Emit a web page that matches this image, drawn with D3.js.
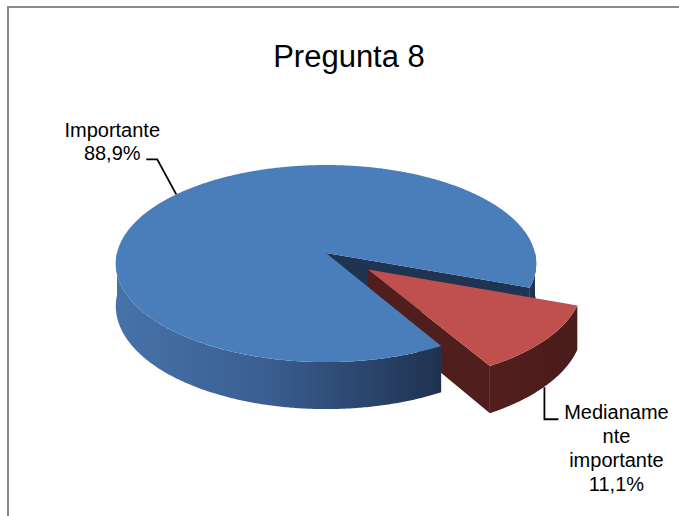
<!DOCTYPE html>
<html>
<head>
<meta charset="utf-8">
<script src="https://cdn.jsdelivr.net/npm/d3@7"></script>
<style>
  html, body { margin: 0; padding: 0; background: #ffffff; }
  svg { display: block; font-family: "Liberation Sans", Arial, sans-serif; }
</style>
</head>
<body>
<script>
// ---- data ----
const title = "Pregunta 8";
const categories = ["Importante", "Medianamente importante"];
const values = [88.9, 11.1];
// how Excel wrapped each label's category name
const labelNameLines = [["Importante"], ["Medianame", "nte", "importante"]];
const explodeFractions = [0, 0.258];

// ---- styles ----
const topColors = ["#4a7ebb", "#c0504d"];
const cutColors = ["#1e3452", "#4f1e1d"];
const wallColors = [["#4672a9", "#3b5f92", "#1f3250"], ["#521f1e", "#4e1d1c", "#4a1c1b"]];

const W = 679, H = 516;
const svg = d3.select("body").append("svg").attr("width", W).attr("height", H);

// chart-area border (extends beyond the viewport on the right and bottom)
svg.append("rect").attr("x", 8).attr("y", 7).attr("width", 720).attr("height", 560)
  .attr("fill", "#fff").attr("stroke", "#8a8a8a").attr("stroke-width", 2);

// title
svg.append("text").attr("x", 349).attr("y", 67).attr("text-anchor", "middle")
  .attr("font-size", 31).attr("fill", "#000").text(title);

// ---- 3D pie geometry (perspective projection of a tilted disc) ----
const geo = { cx: 326, cy: 253, rx: 209, ry: 97.4, k: 0.107, depth: 42 };
function proj(theta, r, off, h) {
  const u = r * Math.sin(theta) + off[0];
  const v = -r * Math.cos(theta) + off[1];
  const s = 1 / (1 - geo.k * v);
  return [geo.cx + geo.rx * u * s, geo.cy + (geo.ry * v + geo.depth * h) * s];
}
function arcPts(a0, a1, off, h) {
  const n = Math.max(2, Math.ceil(Math.abs(a1 - a0) / (Math.PI / 360)));
  const pts = [];
  for (let i = 0; i <= n; i++) pts.push(proj(a0 + (a1 - a0) * i / n, 1, off, h));
  return pts;
}
const line = d3.line();
const rad = d => d * Math.PI / 180;

const pie = d3.pie().sort(null).value(d => d)
  .startAngle(rad(150)).endAngle(rad(150) + 2 * Math.PI);
const arcs = pie(values).map((a, i) => {
  const mid = (a.startAngle + a.endAngle) / 2;
  const e = explodeFractions[i];
  return { ...a, i, mid, off: [e * Math.sin(mid), -e * Math.cos(mid)] };
});

const g = svg.append("g");
const defs = svg.append("defs");

// gradients for the outer walls
arcs.forEach(a => {
  const lo = proj(a.startAngle, 1, a.off, 0), hi = proj(a.endAngle, 1, a.off, 0);
  const grad = defs.append("linearGradient").attr("id", "wall" + a.i)
    .attr("gradientUnits", "userSpaceOnUse")
    .attr("x1", a.i === 0 ? geo.cx - geo.rx : Math.min(lo[0], hi[0])).attr("y1", 0)
    .attr("x2", a.i === 0 ? lo[0] : Math.max(lo[0], hi[0])).attr("y2", 0);
  const cs = wallColors[a.i];
  grad.append("stop").attr("offset", 0).attr("stop-color", cs[0]);
  grad.append("stop").attr("offset", 0.45).attr("stop-color", cs[1]);
  grad.append("stop").attr("offset", 1).attr("stop-color", cs[2]);
});

function topFace(a) {
  return [proj(0, 0, a.off, 0), ...arcPts(a.startAngle, a.endAngle, a.off, 0)];
}
function cutFace(a, ang) {
  return [proj(0, 0, a.off, 0), proj(ang, 1, a.off, 0), proj(ang, 1, a.off, 1), proj(0, 0, a.off, 1)];
}
function frontIntervals(a) {
  const res = [];
  for (let n = 0; n < 2; n++) {
    const lo = Math.max(a.startAngle, Math.PI / 2 + 2 * Math.PI * n);
    const hi = Math.min(a.endAngle, 3 * Math.PI / 2 + 2 * Math.PI * n);
    if (hi > lo) res.push([lo, hi]);
  }
  return res;
}
function drawWall(a, lo, hi) {
  const pts = [...arcPts(lo, hi, a.off, 0), ...arcPts(hi, lo, a.off, 1)];
  g.append("path").attr("d", line(pts) + "Z").attr("fill", a.i === 0 && lo > 2 * Math.PI ? cutColors[0] : `url(#wall${a.i})`);
}
function drawCuts(a) {
  if (Math.sin(a.endAngle) > 0)
    g.append("path").attr("d", line(cutFace(a, a.endAngle)) + "Z").attr("fill", cutColors[a.i]);
  if (Math.sin(a.startAngle) < 0)
    g.append("path").attr("d", line(cutFace(a, a.startAngle)) + "Z").attr("fill", cutColors[a.i]);
}
function drawTop(a) {
  g.append("path").attr("d", line(topFace(a)) + "Z").attr("fill", topColors[a.i]);
}

const blue = arcs[0], red = arcs[1];
const blueIv = frontIntervals(blue);
// painter's order for this view: parts behind the exploded slice first
blueIv.filter(iv => iv[0] > 2 * Math.PI).forEach(iv => drawWall(blue, iv[0], iv[1]));
drawCuts(blue);
frontIntervals(red).forEach(iv => drawWall(red, iv[0], iv[1]));
drawCuts(red); drawTop(red);
blueIv.filter(iv => iv[0] <= 2 * Math.PI).forEach(iv => drawWall(blue, iv[0], iv[1]));
drawTop(blue);

// ---- data labels with leader lines ----
const fmt = d3.formatLocale({ decimal: ",", thousands: ".", grouping: [3], currency: ["", "€"] }).format(".1f");
const lbl = svg.append("g").attr("font-size", 20).attr("fill", "#000");

// Importante: leader from top rim at slice middle
{
  const p = proj(blue.mid, 1, blue.off, 0);
  const elbow = [p[0] - 19, p[1] - 35], end = [elbow[0] - 11, elbow[1]];
  svg.append("path").attr("d", line([p, elbow, end])).attr("fill", "none")
    .attr("stroke", "#000").attr("stroke-width", 1.8);
  const lines = [...labelNameLines[0], fmt(values[0]) + "%"];
  lines.forEach((t, j) => lbl.append("text").attr("x", end[0] - 34)
    .attr("y", end[1] + 1 - (lines.length - 1 - j) * 23).attr("text-anchor", "middle").text(t));
}
// Medianamente importante: leader from wall bottom at slice middle
{
  const p = proj(red.mid, 1, red.off, 1);
  const elbow = [p[0] - 2, p[1] + 34], end = [elbow[0] + 14, elbow[1]];
  svg.append("path").attr("d", line([[p[0] - 2, p[1] + 2], elbow, end])).attr("fill", "none")
    .attr("stroke", "#000").attr("stroke-width", 1.8);
  const lines = [...labelNameLines[1], fmt(values[1]) + "%"];
  lines.forEach((t, j) => lbl.append("text").attr("x", end[0] + 58)
    .attr("y", end[1] + j * 23.8).attr("text-anchor", "middle").text(t));
}
</script>
</body>
</html>
